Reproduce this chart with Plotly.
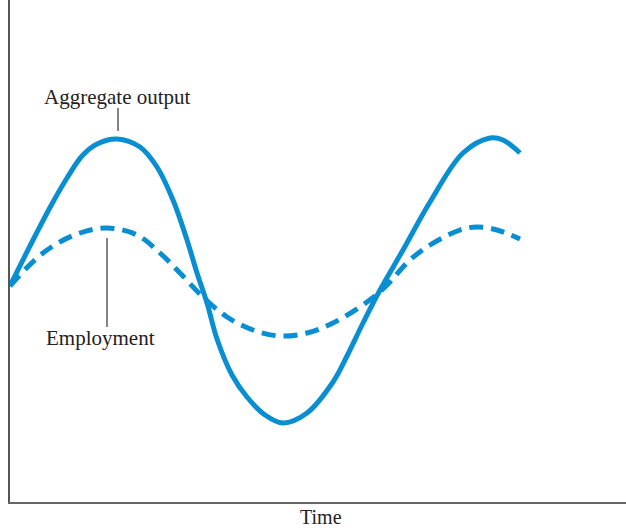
import plotly.graph_objects as go

# Time (x) and level (y) values (arbitrary units)
output_time = [0, 23, 43, 57, 72, 87, 107, 130, 147, 163, 177, 187, 197, 207, 222, 237, 255, 273,
               297, 323, 337, 353, 370, 393, 420, 453, 480, 493, 510]
output_level = [216, 262, 300, 324, 346, 358, 363, 355, 335, 302, 262, 229, 199, 163, 127, 105, 87, 79,
                89, 120, 146, 179, 212, 252, 300, 349, 364, 362, 349]

employment_time = [0, 33, 67, 97, 127, 150, 170, 193, 217, 243, 270, 297, 323, 357, 375, 400, 420,
                   450, 467, 487, 510]
employment_level = [216, 249, 268, 274, 267, 249, 229, 205, 185, 172, 166, 169, 179, 200, 215, 242, 257,
                    272, 275, 272, 263]

line_color = "#0a8ed2"
serif = "Liberation Serif"
fsize = 21

fig = go.Figure()
fig.add_trace(go.Scatter(x=output_time, y=output_level, mode="lines",
                         line=dict(color=line_color, width=5, shape="spline", smoothing=1.0),
                         name="Aggregate output", showlegend=False, hoverinfo="skip"))
fig.add_trace(go.Scatter(x=employment_time, y=employment_level, mode="lines",
                         line=dict(color=line_color, width=5, dash="14px,8px", shape="spline", smoothing=1.0),
                         name="Employment", showlegend=False, hoverinfo="skip"))

# leader lines
fig.add_shape(type="line", x0=108, x1=108, y0=371, y1=394, line=dict(color="#333", width=1.2))
fig.add_shape(type="line", x0=97, x1=97, y0=175, y1=264, line=dict(color="#333", width=1.2))

fig.add_annotation(x=107, y=405, text="Aggregate output", showarrow=False,
                   font=dict(family=serif, size=fsize, color="#222"), xanchor="center", yanchor="middle")
fig.add_annotation(x=90, y=164, text="Employment", showarrow=False,
                   font=dict(family=serif, size=fsize, color="#222"), xanchor="center", yanchor="middle")
fig.add_annotation(x=0.505, xref="paper", y=-15 / 502, yref="paper", text="Time", showarrow=False,
                   font=dict(family=serif, size=20, color="#222"), xanchor="center", yanchor="middle")

fig.update_layout(
    width=626, height=528,
    margin=dict(l=10, r=0, t=0, b=26),
    paper_bgcolor="white", plot_bgcolor="white",
    xaxis=dict(range=[0, 616], showgrid=False, zeroline=False, showticklabels=False, ticks="",
               showline=True, linecolor="#666", linewidth=2),
    yaxis=dict(range=[0, 502], showgrid=False, zeroline=False, showticklabels=False, ticks="",
               showline=True, linecolor="#555", linewidth=1.5),
)
fig.write_html("out.html", config={"displayModeBar": False},
               post_script="document.body.style.margin='0';")
